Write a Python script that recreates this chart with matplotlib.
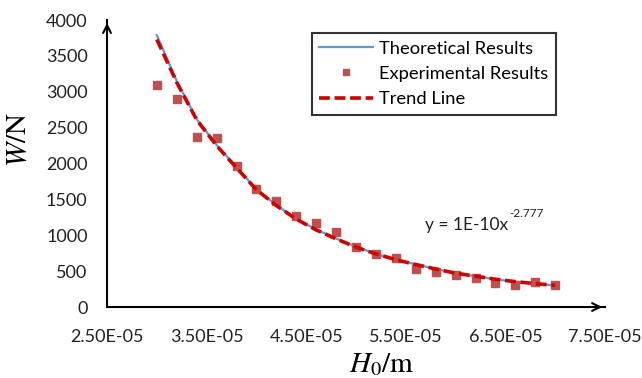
import matplotlib
matplotlib.use("Agg")
import matplotlib.pyplot as plt
import numpy as np

plt.rcParams['mathtext.fontset'] = 'stix'
plt.rcParams['font.family'] = ['Lato', 'DejaVu Sans']

h0 = [3.0e-5, 3.2e-5, 3.4e-5, 3.6e-5, 3.8e-5, 4.0e-5, 4.2e-5, 4.4e-5, 4.6e-5, 4.8e-5,
      5.0e-5, 5.2e-5, 5.4e-5, 5.6e-5, 5.8e-5, 6.0e-5, 6.2e-5, 6.4e-5, 6.6e-5, 6.8e-5, 7.0e-5]
theoretical = [3790, 3150, 2620, 2260, 1950, 1640, 1420, 1230, 1080, 955,
               840, 740, 660, 595, 530, 470, 430, 385, 352, 325, 300]
trend = [3730, 3130, 2610, 2250, 1940, 1635, 1415, 1225, 1075, 950,
         835, 740, 660, 592, 530, 472, 430, 387, 354, 326, 302]
experimental = [3090, 2900, 2370, 2350, 1960, 1650, 1480, 1270, 1175, 1050,
                830, 735, 690, 525, 495, 448, 400, 335, 308, 345, 308]

xticks = [2.5e-5, 3.5e-5, 4.5e-5, 5.5e-5, 6.5e-5, 7.5e-5]
xticklabels = ["2.50E-05", "3.50E-05", "4.50E-05", "5.50E-05", "6.50E-05", "7.50E-05"]
yticks = [0, 500, 1000, 1500, 2000, 2500, 3000, 3500, 4000]

fig = plt.figure(figsize=(6.42, 3.78), dpi=100)
ax = fig.add_axes([0.1667, 0.1878, 0.7757, 0.759])

ax.plot(h0, theoretical, color='#5B9BD5', lw=1.6, label='Theoretical Results', zorder=2)
ax.plot(h0, experimental, ls='none', marker='s', ms=5.4, color='#C0504D',
        label='Experimental Results', zorder=3)
ax.plot(h0, trend, color='#D00000', lw=2.6, ls=(0, (3.0, 1.3)), label='Trend Line', zorder=4)

ax.set_xlim(2.5e-5, 7.5e-5)
ax.set_ylim(0, 4000)
ax.set_xticks(xticks)
ax.set_xticklabels(xticklabels)
ax.set_yticks(yticks)
ax.tick_params(length=0, labelsize=13, colors='#222222')
ax.tick_params(axis='y', pad=14)
ax.tick_params(axis='x', pad=16)

for s in ['top', 'right']:
    ax.spines[s].set_visible(False)
for s in ['left', 'bottom']:
    ax.spines[s].set_linewidth(1.5)
    ax.spines[s].set_color('black')

# axis arrows
ax.annotate('', xy=(1.0, 0), xytext=(0.97, 0), xycoords='axes fraction',
            arrowprops=dict(arrowstyle='->', lw=1.5, color='black', mutation_scale=14),
            annotation_clip=False)
ax.annotate('', xy=(0, 1.0), xytext=(0, 0.96), xycoords='axes fraction',
            arrowprops=dict(arrowstyle='->', lw=1.5, color='black', mutation_scale=14),
            annotation_clip=False)

fig.text(0.027, 0.63, r'$W/\mathrm{N}$', rotation=90, ha='center', va='center', fontsize=21)
fig.text(0.594, 0.036, r'$H_0/\mathrm{m}$', ha='center', va='center', fontsize=21)

# trend equation
ax.text(6.53e-5, 1150, 'y = 1E-10x', fontsize=12.5, ha='right', va='center', color='#222222')
ax.annotate('-2.777', xy=(6.53e-5, 1150), xytext=(0.5, 4), textcoords='offset points',
            fontsize=8.5, ha='left', va='bottom', color='#222222')

leg = ax.legend(loc='upper left', bbox_to_anchor=(0.411, 0.955), frameon=True, fancybox=False,
                fontsize=13.2, handlelength=2.9, borderpad=0.42, labelspacing=0.5,
                handletextpad=0.35, borderaxespad=0, markerscale=0.7, numpoints=1)
leg.get_frame().set_edgecolor('black')
leg.get_frame().set_linewidth(1.5)

fig.savefig('out.png', dpi=100)
